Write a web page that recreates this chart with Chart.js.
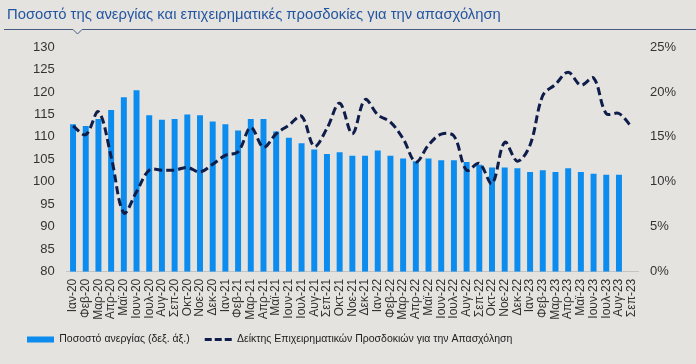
<!DOCTYPE html>
<html>
<head>
<meta charset="utf-8">
<script src="https://cdn.jsdelivr.net/npm/chart.js@4.4.1/dist/chart.umd.min.js"></script>
<style>
  html, body { margin: 0; padding: 0; background: #e5e3df; }
  canvas { display: block; }
</style>
</head>
<body>
<canvas id="c" width="696" height="364"></canvas>
<script>
const TITLE = 'Ποσοστό της ανεργίας και επιχειρηματικές προσδοκίες για την απασχόληση';

const categories = [
  'Ιαν-20','Φεβ-20','Μαρ-20','Απρ-20','Μαϊ-20','Ιουν-20','Ιουλ-20','Αυγ-20','Σεπ-20','Οκτ-20','Νοε-20','Δεκ-20',
  'Ιαν-21','Φεβ-21','Μαρ-21','Απρ-21','Μαϊ-21','Ιουν-21','Ιουλ-21','Αυγ-21','Σεπ-21','Οκτ-21','Νοε-21','Δεκ-21',
  'Ιαν-22','Φεβ-22','Μαρ-22','Απρ-22','Μαϊ-22','Ιουν-22','Ιουλ-22','Αυγ-22','Σεπ-22','Οκτ-22','Νοε-22','Δεκ-22',
  'Ιαν-23','Φεβ-23','Μαρ-23','Απρ-23','Μαϊ-23','Ιουν-23','Ιουλ-23','Αυγ-23','Σεπ-23'
];

// Unemployment rate, % (right axis)
const unemployment = [
  16.4, 16.2, 17.0, 18.0, 19.4, 20.2, 17.4, 16.9, 17.0, 17.5, 17.4, 16.7,
  16.4, 15.7, 17.0, 17.0, 15.6, 14.9, 14.3, 13.6, 13.1, 13.3, 12.9, 12.9,
  13.5, 12.9, 12.6, 12.3, 12.6, 12.4, 12.4, 12.2, 11.9, 11.6, 11.6, 11.5,
  11.1, 11.3, 11.1, 11.5, 11.1, 10.9, 10.8, 10.8, null
];

// Employment expectations index (left axis)
const expectations = [
  112.4, 110.5, 115.6, 105.6, 93.1, 97.8, 102.6, 102.6, 102.6, 103.2, 102.2, 103.9,
  105.9, 106.7, 112.1, 107.7, 110.7, 112.6, 114.6, 107.9, 111.9, 117.5, 110.7, 118.3,
  114.9, 113.3, 109.6, 104.4, 108.2, 110.6, 110.2, 102.6, 104.1, 99.6, 108.8, 104.6,
  108.2, 119.2, 121.7, 124.4, 121.5, 123.1, 115.2, 115.2, 112.2
];

const leftTicks = { min: 80, max: 130, step: 5 };
const rightTicks = { min: 0, max: 25, step: 5 };

const seriesNames = ['Ποσοστό ανεργίας (δεξ. άξ.)', 'Δείκτης Επιχειρηματικών Προσδοκιών για την Απασχόληση'];

const BG = '#e5e3df';
const BAR = '#0b8cee';
const LINE = '#0f1d4a';
Chart.defaults.font.family = '"Liberation Sans", Arial, sans-serif';

const decor = {
  id: 'decor',
  beforeDraw(chart) {
    const ctx = chart.ctx;
    ctx.save();
    ctx.fillStyle = BG;
    ctx.fillRect(0, 0, chart.width, chart.height);
    ctx.font = '14.8px "Liberation Sans", Arial, sans-serif';
    ctx.fillStyle = '#2455a0';
    ctx.textBaseline = 'alphabetic';
    ctx.textAlign = 'left';
    ctx.fillText(TITLE, 7, 19);
    ctx.strokeStyle = '#475a80';
    ctx.lineWidth = 1;
    ctx.beginPath();
    ctx.moveTo(4, 29.5);
    ctx.lineTo(73, 29.5);
    ctx.lineTo(77.5, 34);
    ctx.lineTo(82, 29.5);
    ctx.lineTo(696, 29.5);
    ctx.stroke();
    ctx.restore();
  }
};

new Chart(document.getElementById('c'), {
  data: {
    labels: categories,
    datasets: [
      {
        type: 'bar',
        label: seriesNames[0],
        data: unemployment,
        yAxisID: 'y1',
        backgroundColor: BAR,
        borderWidth: 0,
        barPercentage: 0.47,
        categoryPercentage: 1.0,
        order: 2
      },
      {
        type: 'line',
        label: seriesNames[1],
        data: expectations,
        yAxisID: 'y',
        borderColor: LINE,
        backgroundColor: LINE,
        borderWidth: 3,
        borderDash: [8, 4],
        pointRadius: 0,
        pointHoverRadius: 0,
        tension: 0.35,
        fill: false,
        order: 1
      }
    ]
  },
  options: {
    responsive: false,
    animation: false,
    layout: { padding: { top: 47, left: 12, right: 0, bottom: 9.25 } },
    plugins: {
      title: { display: false },
      tooltip: { enabled: false },
      legend: {
        position: 'bottom',
        align: 'start',
        labels: {
          usePointStyle: true,
          pointStyleWidth: 27,
          boxHeight: 6,
          padding: 15,
          color: '#222',
          font: { size: 10.5 },
          sort: (a, b) => a.datasetIndex - b.datasetIndex,
          generateLabels(chart) {
            const items = Chart.defaults.plugins.legend.labels.generateLabels(chart);
            items.forEach((it) => {
              if (it.datasetIndex === 0) {
                it.pointStyle = 'rect';
                it.fillStyle = BAR;
                it.strokeStyle = BAR;
                it.lineWidth = 0;
                it.lineDash = [];
              } else {
                it.pointStyle = 'line';
                it.strokeStyle = LINE;
                it.lineWidth = 3;
                it.lineDash = [7, 3];
              }
            });
            return items;
          }
        }
      }
    },
    scales: {
      x: {
        grid: { display: false, drawTicks: false },
        border: { display: true, color: '#c4c4c4', width: 1 },
        ticks: {
          autoSkip: false,
          maxRotation: 90,
          minRotation: 90,
          padding: 7,
          color: '#333',
          font: { size: 12 }
        },
        afterFit(scale) { scale.height = 47.5; }
      },
      y: {
        position: 'left',
        min: leftTicks.min,
        max: leftTicks.max,
        grid: { display: false, drawTicks: false },
        border: { display: false },
        ticks: { stepSize: leftTicks.step, padding: 12, color: '#333', font: { size: 13 } },
        afterFit(scale) { scale.width = 54.7; }
      },
      y1: {
        position: 'right',
        min: rightTicks.min,
        max: rightTicks.max,
        grid: { display: false, drawTicks: false },
        border: { display: false },
        ticks: {
          stepSize: rightTicks.step,
          padding: 12,
          color: '#333',
          font: { size: 13 },
          callback: (v) => v + '%'
        },
        afterFit(scale) { scale.width = 58; }
      }
    }
  },
  plugins: [decor]
});
</script>
</body>
</html>
